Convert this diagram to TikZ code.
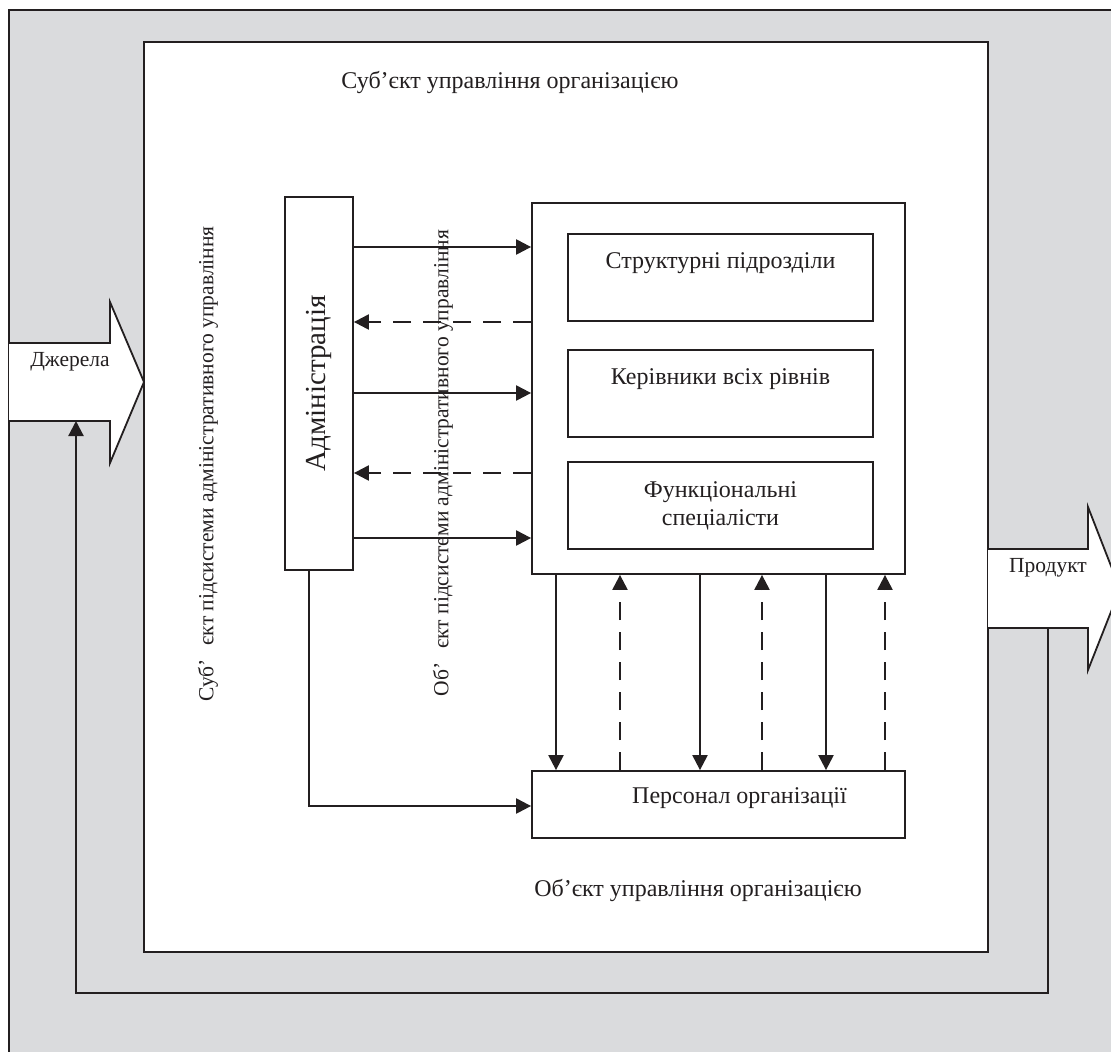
\documentclass[tikz,border=0pt]{standalone}
\usepackage{graphicx}
\usepackage{fontspec}
\setmainfont{Liberation Serif}
\usetikzlibrary{arrows.meta}
\definecolor{panel}{HTML}{DADBDD}
\definecolor{ink}{HTML}{231F20}
\begin{document}
\begin{tikzpicture}[x=1pt, y=-1pt, ink, line width=1.8pt,
  every node/.style={font=\fontsize{24}{28}\selectfont, text=ink},
  small/.style={font=\fontsize{21.5}{25}\selectfont},
  box/.style={draw, fill=white, inner sep=0pt},
  unit/.style={box, minimum width=305pt, minimum height=87pt, align=center},
  textup/.style={text height=15pt, text depth=34pt},
  flow/.style={line width=2.2pt, -{Triangle[length=15pt, width=15pt]}},
  back/.style={flow, dash pattern=on 18pt off 12pt},
  bigarrow/.style={draw, fill=white, line join=miter}]
\clip (0,0) rectangle (1111,1052);
% Draw grey environment with its top and left border
\fill[panel] (9,10) rectangle (1111,1052);
\draw (1111,10) -- (9,10) -- (9,1052);
% Draw the organisation frame
\draw[fill=white] (144,42) rectangle (988,952);
% Draw input and output arrows
\draw[bigarrow] (9,343) -- (110,343) -- (110,302) -- (144,382) -- (110,463) -- (110,421) -- (9,421);
\draw[bigarrow] (988,549) -- (1088,549) -- (1088,507) -- (1120,589) -- (1088,670) -- (1088,628) -- (988,628);
\node[small] (src) at (70,362) {Джерела};
\node[small] (prod) at (1048,568) {Продукт};
\coordinate (srcfoot) at (76,421);
\coordinate (prodfoot) at (1048,628);
% Draw frame captions
\node (subj) at (510,82) {Суб’єкт управління організацією};
\node (obj_label) at (698,890) {Об’єкт управління організацією};
\node[small, rotate=90] (subsys) at (208,464) {Суб’\hspace{14pt}єкт підсистеми адміністративного управління};
\node[small, rotate=90] (objsys) at (443,463) {Об’\hspace{14pt}єкт підсистеми адміністративного управління};
% Draw administration and managed units
\node[box, minimum width=68pt, minimum height=373pt] (admin) at (319,383.5)
  {\rotatebox{90}{\fontsize{29}{32}\selectfont Адміністрація}};
\node[box, minimum width=373pt, minimum height=371pt] (obj) at (718.5,388.5) {};
\node[unit, textup] (units) at (720.5,277.5) {Структурні підрозділи};
\node[unit, textup] (heads) at (720.5,393.5) {Керівники всіх рівнів};
\node[unit] (experts) at (720.5,505.5) {Функціональні\\спеціалісти};
\node[box, minimum width=373pt, minimum height=67pt, text height=16pt, text depth=19pt] (pers) at (718.5,804.5)
  {\hspace*{42pt}Персонал організації};
% Draw commands and feedback
\foreach \y in {247,393,538}
  \draw[flow] (admin.east |- 0,\y) -- (obj.west |- 0,\y);
\foreach \y in {322,473}
  \draw[back] (obj.west |- 0,\y) -- (admin.east |- 0,\y);
\foreach \x in {556,700,826}
  \draw[flow] (obj.south -| \x,0) -- (pers.north -| \x,0);
\foreach \x in {620,762,885}
  \draw[back] (pers.north -| \x,0) -- (obj.south -| \x,0);
\draw[flow] (admin.south -| 309,0) |- (pers.west |- 0,806);
% Draw the return loop from product to sources
\draw[flow] (prodfoot) -- (prodfoot |- 0,993) -| (srcfoot);
\end{tikzpicture}
\end{document}
